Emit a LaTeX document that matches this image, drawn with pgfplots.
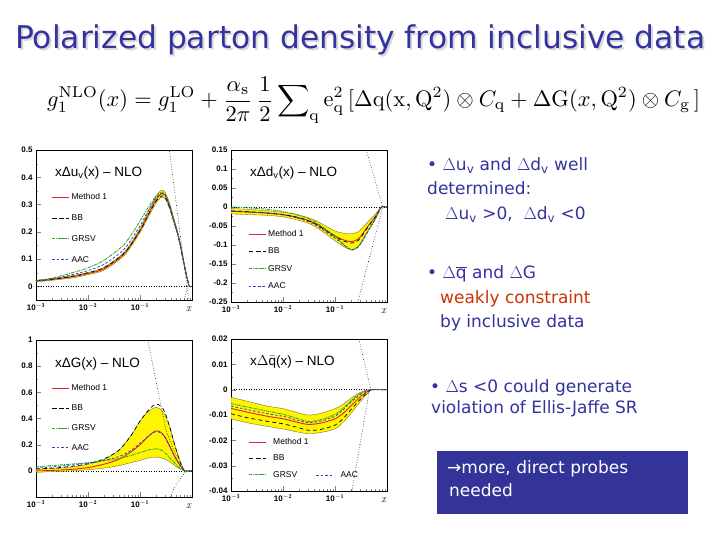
\documentclass[border=0pt]{standalone}
\usepackage{fontspec}
\usepackage{graphicx}
\usepackage{pgfplots}
\pgfplotsset{compat=1.18}
\newfontfamily\tah{DejaVu Sans}
\newfontfamily\hel{Liberation Sans}
\definecolor{slideblue}{RGB}{51,51,160}
\definecolor{slidered}{RGB}{204,51,0}
\definecolor{boxblue}{RGB}{51,51,153}
\definecolor{mred}{RGB}{220,40,40}
\definecolor{mgreen}{RGB}{40,170,40}
\definecolor{mblue}{RGB}{60,60,200}
\definecolor{bandy}{RGB}{255,245,0}
\definecolor{bandedge}{RGB}{90,90,30}
\tikzset{
 bandst/.style={fill=bandy, draw=bandedge, line width=0.3pt, smooth},
 m1/.style={mred, line width=0.9pt, smooth},
 bb/.style={black, line width=0.7pt, smooth, dash pattern=on 4pt off 3pt},
 grsv/.style={mgreen, line width=0.9pt, dash pattern=on 3pt off 1pt on 1pt off 1pt, smooth},
 aac/.style={mblue, line width=0.8pt, dash pattern=on 2.5pt off 2pt, smooth},
 zl/.style={black, dotted, line width=0.5pt},
 bd/.style={black, dotted, line width=0.6pt},
 ptitle/.style={font=\hel\fontsize{13.5}{14}\selectfont, anchor=west},
}
\pgfplotsset{
 every axis/.append style={
  scale only axis, width=156pt, xmin=1e-3, xmax=1,
  xtick={0.001,0.01,0.1,1},
  xticklabels={{\textbf{10}$^{\mathbf{-3}}$},{\textbf{10}$^{\mathbf{-2}}$},{\textbf{10}$^{\mathbf{-1}}$},{}},
  scaled ticks=false,
  tick align=inside, xtick pos=bottom, ytick pos=left,
  major tick length=5pt, minor tick length=2.5pt,
  minor y tick num=1,
  ticklabel style={font=\hel\bfseries\fontsize{8}{9}\selectfont},
  xlabel={\textit{x}},
  xlabel style={at={(axis description cs:0.98,0)}, anchor=north, yshift=-3pt, font=\fontsize{11}{11}\selectfont},
  axis line style={line width=0.6pt},
  legend style={draw=none, fill=none, anchor=north west, font=\hel\fontsize{8.5}{9}\selectfont},
  legend cell align=left,
 },
}
\begin{document}
\begin{tikzpicture}
\path[use as bounding box, fill=white] (0,0) rectangle (720pt,-540pt);
% title
\node[anchor=base west, text=black!15, inner sep=0] at (17pt,-51pt) {\resizebox{690pt}{!}{\tah Polarized parton density from inclusive data}};
\node[anchor=base west, text=slideblue, inner sep=0] at (15pt,-49pt) {\resizebox{690pt}{!}{\tah Polarized parton density from inclusive data}};
% formula
\node[anchor=west, inner sep=0] at (47pt,-100pt) {\resizebox{653pt}{!}{$\displaystyle g_1^{\mathrm{NLO}}(x) = g_1^{\mathrm{LO}} + \frac{\alpha_{\mathrm{s}}}{2\pi}\,\frac{1}{2}\sum\nolimits_{\mathrm{q}} \mathrm{e}_{\mathrm{q}}^2\,[\Delta \mathrm{q}(\mathrm{x},\mathrm{Q}^2)\otimes C_{\mathrm{q}} + \Delta \mathrm{G}(x,\mathrm{Q}^2)\otimes C_{\mathrm{g}}\,]$}};
% right text
\begin{scope}[every node/.style={anchor=base west, inner sep=0, text=slideblue, font=\tah\fontsize{17}{20}\selectfont}]
\node at (427pt,-171pt) {• $\Delta$u\textsubscript{v} and $\Delta$d\textsubscript{v} well};
\node at (427pt,-195pt) {determined:};
\node at (445pt,-220pt) {$\Delta$u\textsubscript{v} >0,\ \ $\Delta$d\textsubscript{v} <0};
\node at (427pt,-278pt) {• $\Delta\overline{\mbox{q}}$ and $\Delta$G};
\node[text=slidered] at (440pt,-303pt) {weakly constraint};
\node at (440pt,-327pt) {by inclusive data};
\node at (430pt,-392pt) {• $\Delta$s <0 could generate};
\node at (431pt,-413pt) {violation of Ellis-Jaffe SR};
\end{scope}
\fill[boxblue] (437pt,-451pt) rectangle (688pt,-514pt);
\node[anchor=base west, inner sep=0, text=white, font=\tah\fontsize{17}{20}\selectfont] at (447pt,-473pt) {→more, direct probes};
\node[anchor=base west, inner sep=0, text=white, font=\tah\fontsize{17}{20}\selectfont] at (449pt,-496pt) {needed};

% ---------- Panel 1: x Delta u_v
\begin{semilogxaxis}[at={(36pt,-300pt)}, anchor=south west, height=150pt,
  ymin=-0.05, ymax=0.5, ytick={0,0.1,0.2,0.3,0.4,0.5}, yticklabels={0,0.1,0.2,0.3,0.4,0.5},
  legend style={at={(0.08,0.74)}, row sep=9.5pt}]
\addplot[zl, forget plot] coordinates {(0.001,0) (1,0)};
\addplot[bandst, forget plot] coordinates {(0.001,0.023)(0.002,0.028)(0.005,0.039)(0.01,0.051)(0.02,0.069)(0.05,0.126)(0.1,0.213)(0.15,0.28)(0.2,0.327)(0.25,0.351)(0.3,0.347)(0.37,0.305)(0.45,0.248)(0.52,0.207)(0.6,0.156)(0.66,0.115)(0.75,0.062)(0.82,0.027)(0.89,0)(0.82,0.023)(0.75,0.054)(0.66,0.105)(0.6,0.144)(0.52,0.193)(0.45,0.232)(0.37,0.285)(0.3,0.323)(0.25,0.325)(0.2,0.303)(0.15,0.26)(0.1,0.197)(0.05,0.114)(0.02,0.059)(0.01,0.043)(0.005,0.031)(0.002,0.022)(0.001,0.017)} -- cycle;
\addplot[m1, forget plot] coordinates {(0.001,0.020)(0.002,0.025)(0.005,0.035)(0.01,0.047)(0.02,0.064)(0.05,0.12)(0.1,0.205)(0.15,0.27)(0.2,0.315)(0.25,0.338)(0.3,0.335)(0.37,0.295)(0.45,0.24)(0.52,0.2)(0.6,0.15)(0.66,0.11)(0.75,0.058)(0.82,0.025)(0.89,0.0)(1,0)};
\addplot[bb, forget plot] coordinates {(0.001,0.02)(0.002,0.026)(0.005,0.037)(0.01,0.05)(0.02,0.068)(0.05,0.122)(0.1,0.205)(0.15,0.268)(0.2,0.31)(0.25,0.33)(0.3,0.328)(0.37,0.29)(0.45,0.237)(0.52,0.197)(0.6,0.148)(0.66,0.108)(0.75,0.057)(0.82,0.024)(0.89,0)(1,0)};
\addplot[grsv, forget plot] coordinates {(0.001,0.02)(0.002,0.03)(0.005,0.05)(0.01,0.068)(0.02,0.095)(0.05,0.155)(0.1,0.24)(0.15,0.295)(0.2,0.33)(0.25,0.345)(0.3,0.34)(0.37,0.3)(0.45,0.243)(0.52,0.2)(0.6,0.15)(0.66,0.108)(0.75,0.057)(0.82,0.024)(0.89,0)(1,0)};
\addplot[aac, forget plot] coordinates {(0.001,0.02)(0.002,0.028)(0.005,0.043)(0.01,0.058)(0.02,0.08)(0.05,0.137)(0.1,0.222)(0.15,0.283)(0.2,0.322)(0.25,0.34)(0.3,0.337)(0.37,0.298)(0.45,0.24)(0.52,0.2)(0.6,0.15)(0.66,0.108)(0.75,0.057)(0.82,0.024)(0.89,0)(1,0)};
\addplot[bd, forget plot] coordinates {(0.314,0.6)(0.93,-0.1)};
\addplot[bd, forget plot] coordinates {(0.82,0)(0.71,-0.05)};
\addlegendimage{m1}\addlegendentry{Method 1}
\addlegendimage{bb}\addlegendentry{BB}
\addlegendimage{grsv}\addlegendentry{GRSV}
\addlegendimage{aac}\addlegendentry{AAC}
\node[ptitle] at (rel axis cs:0.1,0.847) {xΔu\textsubscript{v}(x) – NLO};
\end{semilogxaxis}

% ---------- Panel 2: x Delta d_v
\begin{semilogxaxis}[at={(231pt,-302pt)}, anchor=south west, height=152pt,
  ymin=-0.25, ymax=0.15, ytick={-0.25,-0.2,-0.15,-0.1,-0.05,0,0.05,0.1,0.15},
  yticklabels={-0.25,-0.2,-0.15,-0.1,-0.05,0,0.05,0.1,0.15},
  legend style={at={(0.09,0.5)}, row sep=6pt}]
\addplot[zl, forget plot] coordinates {(0.001,0) (1,0)};
\addplot[bandst, forget plot] coordinates {(0.001,-0.004)(0.002,-0.006)(0.005,-0.010)(0.01,-0.014)(0.02,-0.021)(0.04,-0.034)(0.1,-0.063)(0.15,-0.069)(0.2,-0.07)(0.25,-0.068)(0.3,-0.062)(0.37,-0.049)(0.45,-0.036)(0.58,-0.021)(0.7,-0.007)(0.78,0)(0.7,-0.013)(0.58,-0.035)(0.45,-0.058)(0.37,-0.077)(0.3,-0.098)(0.25,-0.108)(0.2,-0.112)(0.15,-0.105)(0.1,-0.089)(0.04,-0.05)(0.02,-0.035)(0.01,-0.026)(0.005,-0.022)(0.002,-0.020)(0.001,-0.018)} -- cycle;
\addplot[m1, forget plot] coordinates {(0.001,-0.011)(0.002,-0.013)(0.005,-0.016)(0.01,-0.02)(0.02,-0.028)(0.04,-0.042)(0.1,-0.076)(0.15,-0.087)(0.2,-0.091)(0.25,-0.088)(0.3,-0.08)(0.37,-0.063)(0.45,-0.047)(0.58,-0.028)(0.7,-0.01)(0.78,0)(1,0)};
\addplot[bb, forget plot] coordinates {(0.001,-0.01)(0.002,-0.012)(0.005,-0.016)(0.01,-0.02)(0.02,-0.028)(0.04,-0.043)(0.1,-0.078)(0.15,-0.09)(0.2,-0.095)(0.25,-0.092)(0.3,-0.084)(0.37,-0.066)(0.45,-0.049)(0.58,-0.029)(0.7,-0.01)(0.78,0)(1,0)};
\addplot[grsv, forget plot] coordinates {(0.001,0)(0.002,-0.002)(0.005,-0.006)(0.01,-0.012)(0.02,-0.022)(0.04,-0.038)(0.1,-0.077)(0.15,-0.1)(0.2,-0.113)(0.25,-0.11)(0.3,-0.1)(0.37,-0.08)(0.45,-0.06)(0.58,-0.035)(0.7,-0.012)(0.78,0)(1,0)};
\addplot[aac, forget plot] coordinates {(0.001,-0.012)(0.002,-0.013)(0.005,-0.016)(0.01,-0.021)(0.02,-0.03)(0.04,-0.046)(0.1,-0.082)(0.15,-0.101)(0.2,-0.112)(0.25,-0.11)(0.3,-0.1)(0.37,-0.08)(0.45,-0.059)(0.58,-0.034)(0.7,-0.012)(0.78,0)(1,0)};
\addplot[bd, forget plot] coordinates {(0.363,0.17)(0.83,0)};
\addplot[bd, forget plot] coordinates {(0.252,-0.27)(0.83,0)};
\addlegendimage{m1}\addlegendentry{Method 1}
\addlegendimage{bb}\addlegendentry{BB}
\addlegendimage{grsv}\addlegendentry{GRSV}
\addlegendimage{aac}\addlegendentry{AAC}
\node[ptitle] at (rel axis cs:0.1,0.85) {xΔd\textsubscript{v}(x) – NLO};
\end{semilogxaxis}

% ---------- Panel 3: x Delta G
\begin{semilogxaxis}[at={(36pt,-497pt)}, anchor=south west, height=157pt,
  ymin=-0.2, ymax=1, ytick={0,0.2,0.4,0.6,0.8,1}, yticklabels={0,0.2,0.4,0.6,0.8,1},
  legend style={at={(0.08,0.745)}, row sep=8.5pt}]
\addplot[zl, forget plot] coordinates {(0.001,0) (1,0)};
\addplot[bandst, forget plot] coordinates {(0.001,0.012)(0.002,0.016)(0.005,0.03)(0.01,0.05)(0.02,0.085)(0.04,0.16)(0.07,0.28)(0.1,0.38)(0.15,0.46)(0.2,0.485)(0.25,0.47)(0.3,0.43)(0.37,0.34)(0.45,0.22)(0.55,0.11)(0.65,0.035)(0.72,0)(0.65,0.005)(0.55,0.02)(0.45,0.045)(0.37,0.07)(0.3,0.09)(0.25,0.1)(0.2,0.105)(0.15,0.1)(0.1,0.08)(0.07,0.065)(0.04,0.04)(0.02,0.02)(0.01,0.008)(0.005,0)(0.002,-0.006)(0.001,-0.012)} -- cycle;
\addplot[m1, forget plot] coordinates {(0.001,0.0)(0.002,0.003)(0.005,0.012)(0.01,0.025)(0.02,0.05)(0.04,0.09)(0.07,0.15)(0.1,0.2)(0.15,0.27)(0.2,0.305)(0.25,0.295)(0.3,0.26)(0.37,0.19)(0.45,0.12)(0.55,0.06)(0.65,0.02)(0.72,0)(1,0)};
\addplot[bb, forget plot] coordinates {(0.001,0.015)(0.002,0.02)(0.005,0.035)(0.01,0.055)(0.02,0.09)(0.04,0.16)(0.07,0.28)(0.1,0.38)(0.15,0.47)(0.2,0.51)(0.25,0.495)(0.3,0.45)(0.37,0.34)(0.45,0.22)(0.55,0.1)(0.65,0.03)(0.72,0)(1,0)};
\addplot[grsv, forget plot] coordinates {(0.001,0.03)(0.002,0.04)(0.005,0.052)(0.01,0.062)(0.02,0.077)(0.04,0.095)(0.07,0.12)(0.1,0.14)(0.15,0.16)(0.2,0.168)(0.25,0.16)(0.3,0.14)(0.37,0.10)(0.45,0.065)(0.55,0.03)(0.65,0.01)(0.72,0)(1,0)};
\addplot[aac, forget plot] coordinates {(0.001,0.02)(0.002,0.03)(0.005,0.045)(0.01,0.06)(0.02,0.08)(0.04,0.11)(0.07,0.16)(0.1,0.21)(0.15,0.27)(0.2,0.3)(0.25,0.29)(0.3,0.26)(0.37,0.19)(0.45,0.12)(0.55,0.06)(0.65,0.02)(0.72,0)(1,0)};
\addplot[bd, forget plot] coordinates {(0.13,1.1)(0.141,1.0)(0.318,0.306)(0.57,0.05)(0.75,0)};
\addplot[bd, forget plot] coordinates {(0.38,-0.2)(0.457,-0.128)(0.77,0)};
\addlegendimage{m1}\addlegendentry{Method 1}
\addlegendimage{bb}\addlegendentry{BB}
\addlegendimage{grsv}\addlegendentry{GRSV}
\addlegendimage{aac}\addlegendentry{AAC}
\node[ptitle] at (rel axis cs:0.1,0.85) {xΔG(x) – NLO};
\end{semilogxaxis}

% ---------- Panel 4: x Delta qbar
\begin{semilogxaxis}[at={(231pt,-491pt)}, anchor=south west, height=152pt,
  ymin=-0.04, ymax=0.02, ytick={-0.04,-0.03,-0.02,-0.01,0,0.01,0.02},
  yticklabels={-0.04,-0.03,-0.02,-0.01,0,0.01,0.02},
  legend columns=2,
  legend style={at={(0.09,0.375)}, row sep=5pt, column sep=5pt}]
\addplot[zl, forget plot] coordinates {(0.001,0) (1,0)};
\addplot[bandst, forget plot] coordinates {(0.001,-0.003)(0.002,-0.0045)(0.005,-0.0065)(0.01,-0.0075)(0.02,-0.0092)(0.03,-0.010)(0.05,-0.0095)(0.1,-0.0075)(0.15,-0.0055)(0.2,-0.0035)(0.3,-0.0012)(0.4,-0.0003)(0.5,0)(0.4,-0.002)(0.3,-0.005)(0.2,-0.0095)(0.15,-0.0125)(0.1,-0.0155)(0.05,-0.017)(0.03,-0.0173)(0.02,-0.0168)(0.01,-0.0155)(0.005,-0.0145)(0.002,-0.013)(0.001,-0.0115)} -- cycle;
\addplot[m1, forget plot] coordinates {(0.001,-0.0074)(0.002,-0.0088)(0.005,-0.0105)(0.01,-0.0115)(0.02,-0.013)(0.03,-0.0137)(0.05,-0.0133)(0.1,-0.0115)(0.15,-0.009)(0.2,-0.0065)(0.3,-0.003)(0.4,-0.001)(0.5,0)(1,0)};
\addplot[bb, forget plot] coordinates {(0.001,-0.0095)(0.002,-0.011)(0.005,-0.0125)(0.01,-0.0135)(0.02,-0.015)(0.03,-0.016)(0.05,-0.0158)(0.1,-0.014)(0.15,-0.011)(0.2,-0.008)(0.3,-0.004)(0.4,-0.0015)(0.5,0)(1,0)};
\addplot[grsv, forget plot] coordinates {(0.001,-0.0055)(0.002,-0.0068)(0.005,-0.0085)(0.01,-0.0097)(0.02,-0.0115)(0.03,-0.0125)(0.05,-0.012)(0.1,-0.0098)(0.15,-0.007)(0.2,-0.0045)(0.3,-0.0015)(0.4,-0.0003)(0.5,0)(1,0)};
\addplot[aac, forget plot] coordinates {(0.001,-0.0065)(0.002,-0.0078)(0.005,-0.0095)(0.01,-0.0105)(0.02,-0.0122)(0.03,-0.013)(0.05,-0.0125)(0.1,-0.0105)(0.15,-0.0075)(0.2,-0.005)(0.3,-0.002)(0.4,-0.0005)(0.5,0)(1,0)};
\addplot[bd, forget plot] coordinates {(0.28,0.021)(0.49,0)};
\addplot[bd, forget plot] coordinates {(0.204,-0.042)(0.46,0)};
\addlegendimage{m1}\addlegendentry{Method 1}
\addlegendimage{empty legend}\addlegendentry{}
\addlegendimage{bb}\addlegendentry{BB}
\addlegendimage{empty legend}\addlegendentry{}
\addlegendimage{grsv}\addlegendentry{GRSV}
\addlegendimage{aac}\addlegendentry{AAC}
\node[ptitle] at (rel axis cs:0.1,0.85) {x$\Delta\bar{\mbox{q}}$(x) – NLO};
\end{semilogxaxis}
\end{tikzpicture}
\end{document}
